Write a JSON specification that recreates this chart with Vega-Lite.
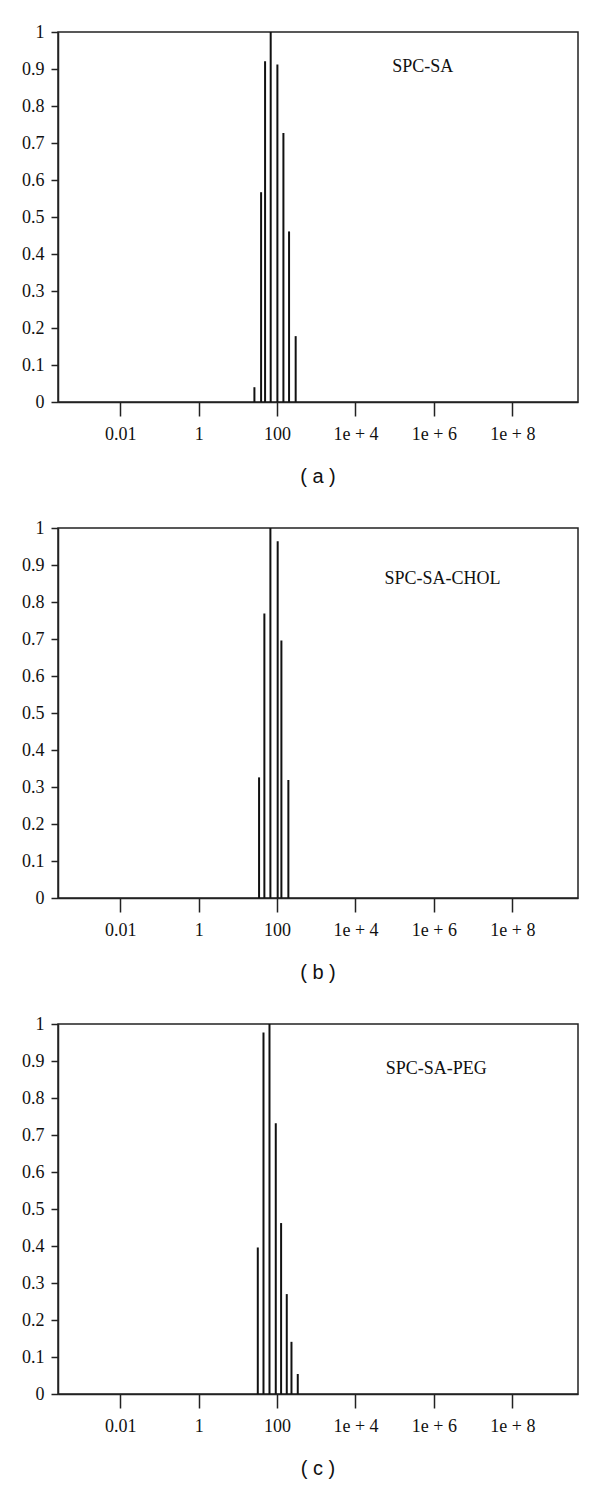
{
  "$schema": "https://vega.github.io/schema/vega-lite/v6.json",
  "background": "white",
  "padding": {"left": 20, "top": 22, "right": 10, "bottom": 5},
  "spacing": 30,
  "datasets": {
    "a": [
      {"size": 26.4, "intensity": 0.04},
      {"size": 39.1, "intensity": 0.567},
      {"size": 49.4, "intensity": 0.921},
      {"size": 68.7, "intensity": 1.0},
      {"size": 101.8, "intensity": 0.912},
      {"size": 145, "intensity": 0.727},
      {"size": 202, "intensity": 0.461},
      {"size": 298, "intensity": 0.178}
    ],
    "b": [
      {"size": 34.7, "intensity": 0.326},
      {"size": 47.4, "intensity": 0.769},
      {"size": 67.5, "intensity": 1.0},
      {"size": 103.6, "intensity": 0.964},
      {"size": 128.8, "intensity": 0.696},
      {"size": 194, "intensity": 0.319}
    ],
    "c": [
      {"size": 32.2, "intensity": 0.396},
      {"size": 45, "intensity": 0.977},
      {"size": 64, "intensity": 1.0},
      {"size": 92.6, "intensity": 0.732},
      {"size": 126.6, "intensity": 0.462},
      {"size": 176.6, "intensity": 0.27},
      {"size": 232.8, "intensity": 0.141},
      {"size": 337, "intensity": 0.054}
    ]
  },
  "vconcat": [
    {
      "width": 520, "height": 370,
      "title": {"text": "( a )"},
      "layer": [
        {
          "data": {"name": "a"},
          "mark": {"type": "rule", "strokeWidth": 2, "color": "#111"},
          "encoding": {
            "x": {"field": "size", "type": "quantitative", "scale": {"type": "log", "domain": [0.000258, 4740000000], "nice": false}, "axis": {"values": [0.01, 1, 100, 10000, 1000000, 100000000], "labelExpr": "datum.value < 1000 ? datum.value == 0.01 ? '0.01' : format(datum.value, 'd') : '1e + ' + round(log(datum.value) / LN10)", "title": null}},
            "y": {"field": "intensity", "type": "quantitative", "scale": {"domain": [0, 1], "nice": false}, "axis": {"values": [0, 0.1, 0.2, 0.3, 0.4, 0.5, 0.6, 0.7, 0.8, 0.9, 1], "format": ".1~f", "title": null, "labelOverlap": false}},
            "y2": {"datum": 0}
          }
        },
        {
          "data": {"values": [{"label": "SPC-SA"}]},
          "mark": {"type": "text", "align": "left", "baseline": "middle", "font": "Liberation Serif", "fontSize": 18, "color": "#111"},
          "encoding": {
            "text": {"field": "label"},
            "x": {"datum": 87000, "type": "quantitative", "scale": {"type": "log", "domain": [0.000258, 4740000000], "nice": false}, "axis": {"values": [0.01, 1, 100, 10000, 1000000, 100000000], "labelExpr": "datum.value < 1000 ? datum.value == 0.01 ? '0.01' : format(datum.value, 'd') : '1e + ' + round(log(datum.value) / LN10)", "title": null}},
            "y": {"datum": 0.906, "type": "quantitative", "scale": {"domain": [0, 1], "nice": false}, "axis": {"values": [0, 0.1, 0.2, 0.3, 0.4, 0.5, 0.6, 0.7, 0.8, 0.9, 1], "format": ".1~f", "title": null, "labelOverlap": false}}
          }
        }
      ]
    },
    {
      "width": 520, "height": 370,
      "title": {"text": "( b )"},
      "layer": [
        {
          "data": {"name": "b"},
          "mark": {"type": "rule", "strokeWidth": 2, "color": "#111"},
          "encoding": {
            "x": {"field": "size", "type": "quantitative", "scale": {"type": "log", "domain": [0.000258, 4740000000], "nice": false}, "axis": {"values": [0.01, 1, 100, 10000, 1000000, 100000000], "labelExpr": "datum.value < 1000 ? datum.value == 0.01 ? '0.01' : format(datum.value, 'd') : '1e + ' + round(log(datum.value) / LN10)", "title": null}},
            "y": {"field": "intensity", "type": "quantitative", "scale": {"domain": [0, 1], "nice": false}, "axis": {"values": [0, 0.1, 0.2, 0.3, 0.4, 0.5, 0.6, 0.7, 0.8, 0.9, 1], "format": ".1~f", "title": null, "labelOverlap": false}},
            "y2": {"datum": 0}
          }
        },
        {
          "data": {"values": [{"label": "SPC-SA-CHOL"}]},
          "mark": {"type": "text", "align": "left", "baseline": "middle", "font": "Liberation Serif", "fontSize": 18, "color": "#111"},
          "encoding": {
            "text": {"field": "label"},
            "x": {"datum": 55000, "type": "quantitative", "scale": {"type": "log", "domain": [0.000258, 4740000000], "nice": false}, "axis": {"values": [0.01, 1, 100, 10000, 1000000, 100000000], "labelExpr": "datum.value < 1000 ? datum.value == 0.01 ? '0.01' : format(datum.value, 'd') : '1e + ' + round(log(datum.value) / LN10)", "title": null}},
            "y": {"datum": 0.863, "type": "quantitative", "scale": {"domain": [0, 1], "nice": false}, "axis": {"values": [0, 0.1, 0.2, 0.3, 0.4, 0.5, 0.6, 0.7, 0.8, 0.9, 1], "format": ".1~f", "title": null, "labelOverlap": false}}
          }
        }
      ]
    },
    {
      "width": 520, "height": 370,
      "title": {"text": "( c )"},
      "layer": [
        {
          "data": {"name": "c"},
          "mark": {"type": "rule", "strokeWidth": 2, "color": "#111"},
          "encoding": {
            "x": {"field": "size", "type": "quantitative", "scale": {"type": "log", "domain": [0.000258, 4740000000], "nice": false}, "axis": {"values": [0.01, 1, 100, 10000, 1000000, 100000000], "labelExpr": "datum.value < 1000 ? datum.value == 0.01 ? '0.01' : format(datum.value, 'd') : '1e + ' + round(log(datum.value) / LN10)", "title": null}},
            "y": {"field": "intensity", "type": "quantitative", "scale": {"domain": [0, 1], "nice": false}, "axis": {"values": [0, 0.1, 0.2, 0.3, 0.4, 0.5, 0.6, 0.7, 0.8, 0.9, 1], "format": ".1~f", "title": null, "labelOverlap": false}},
            "y2": {"datum": 0}
          }
        },
        {
          "data": {"values": [{"label": "SPC-SA-PEG"}]},
          "mark": {"type": "text", "align": "left", "baseline": "middle", "font": "Liberation Serif", "fontSize": 18, "color": "#111"},
          "encoding": {
            "text": {"field": "label"},
            "x": {"datum": 59000, "type": "quantitative", "scale": {"type": "log", "domain": [0.000258, 4740000000], "nice": false}, "axis": {"values": [0.01, 1, 100, 10000, 1000000, 100000000], "labelExpr": "datum.value < 1000 ? datum.value == 0.01 ? '0.01' : format(datum.value, 'd') : '1e + ' + round(log(datum.value) / LN10)", "title": null}},
            "y": {"datum": 0.879, "type": "quantitative", "scale": {"domain": [0, 1], "nice": false}, "axis": {"values": [0, 0.1, 0.2, 0.3, 0.4, 0.5, 0.6, 0.7, 0.8, 0.9, 1], "format": ".1~f", "title": null, "labelOverlap": false}}
          }
        }
      ]
    }
  ],
  "config": {
    "view": {"stroke": "#222", "strokeWidth": 1.5},
    "axis": {
      "grid": false,
      "labelOverlap": false,
      "domainColor": "#222", "domainWidth": 1.5,
      "tickColor": "#222", "tickWidth": 1.5,
      "labelFont": "Liberation Serif", "labelFontSize": 18, "labelColor": "#111"
    },
    "axisX": {"tickSize": 14, "labelPadding": 9},
    "axisY": {"tickSize": 7, "labelPadding": 7},
    "title": {"orient": "bottom", "anchor": "middle", "font": "Liberation Sans", "fontSize": 20, "fontWeight": "normal", "color": "#111", "offset": 24}
  }
}
